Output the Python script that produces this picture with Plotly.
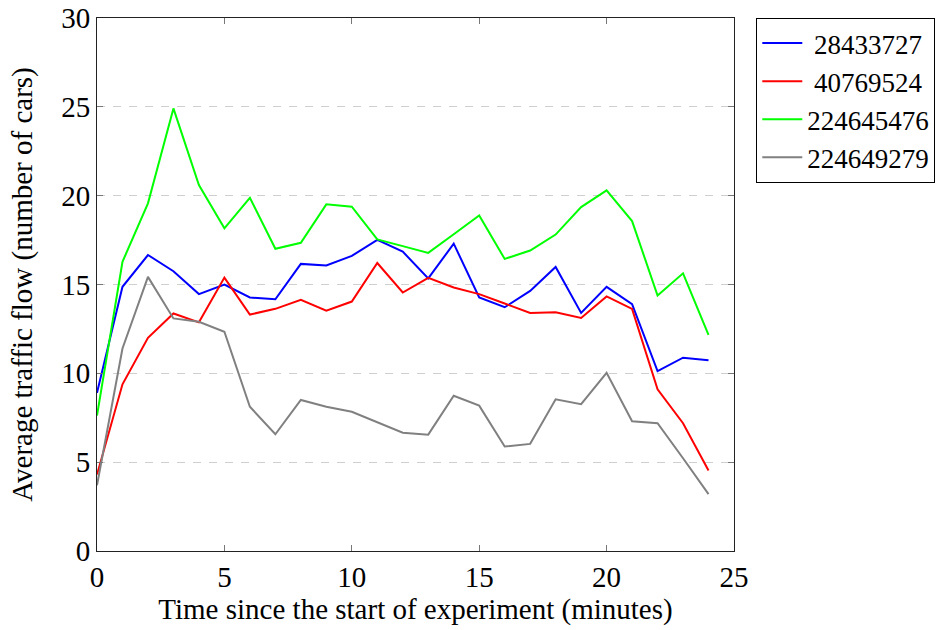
import plotly.graph_objects as go

minutes = list(range(25))
names = ["28433727", "40769524", "224645476", "224649279"]
s_28433727 = [8.9, 14.87, 16.66, 15.75, 14.46, 15.0, 14.27, 14.17, 16.16, 16.07, 16.61, 17.51, 16.85,
              15.34, 17.3, 14.27, 13.72, 14.64, 15.99, 13.4, 14.87, 13.89, 10.13, 10.88, 10.73]
s_40769524 = [4.3, 9.38, 12.0, 13.37, 12.87, 15.39, 13.31, 13.63, 14.14, 13.52, 14.04, 16.21, 14.55,
              15.37, 14.83, 14.46, 13.93, 13.4, 13.44, 13.12, 14.33, 13.63, 9.1, 7.19, 4.53]
s_224645476 = [7.62, 16.28, 19.57, 24.91, 20.6, 18.16, 19.88, 17.01, 17.35, 19.51, 19.38, 17.54, 17.16,
               16.78, 17.83, 18.89, 16.44, 16.91, 17.81, 19.36, 20.3, 18.57, 14.38, 15.63, 12.17]
s_224649279 = [3.7, 11.4, 15.43, 13.09, 12.9, 12.34, 8.12, 6.57, 8.5, 8.12, 7.84, 7.25, 6.66,
               6.55, 8.74, 8.18, 5.88, 6.03, 8.54, 8.26, 10.03, 7.3, 7.19, 5.22, 3.2]
series = [s_28433727, s_40769524, s_224645476, s_224649279]
colors = ["#0000ff", "#ff0000", "#00ff00", "#808080"]
x_ticks = [0, 5, 10, 15, 20, 25]
y_ticks = [0, 5, 10, 15, 20, 25, 30]

font_family = "Liberation Serif, Times New Roman, serif"
FS = 29

fig = go.Figure()
for name, ys, c in zip(names, series, colors):
    pad = "\u00a0" * (9 - len(name))
    fig.add_trace(go.Scatter(x=minutes, y=ys, mode="lines", name=pad + name,
                             line=dict(color=c, width=2)))

fig.update_layout(
    width=950, height=630,
    margin=dict(l=97, r=216, t=18, b=79, autoexpand=False),
    paper_bgcolor="white", plot_bgcolor="white",
    font=dict(family=font_family, size=FS, color="black"),
    legend=dict(x=1.035, y=1, xanchor="left", yanchor="top",
                bordercolor="black", borderwidth=1, bgcolor="white",
                font=dict(family=font_family, size=27),
                tracegroupgap=0, itemwidth=40),
    xaxis=dict(range=[0, 25], tickvals=x_ticks, ticktext=[str(v) for v in x_ticks],
               showgrid=False, zeroline=False, automargin=False,
               showline=True, linecolor="#222", linewidth=1, mirror="ticks",
               ticks="inside", ticklen=6, tickcolor="#777",
               title=dict(text="Time since the start of experiment (minutes)", standoff=6,
                          font=dict(size=FS))),
    yaxis=dict(range=[0, 30], tickvals=y_ticks, ticktext=[str(v) for v in y_ticks],
               showgrid=True, gridcolor="#cfcfcf", griddash="8px,8px", gridwidth=1,
               zeroline=False, automargin=False,
               showline=True, linecolor="#222", linewidth=1, mirror="ticks",
               ticks="inside", ticklen=6, tickcolor="#777",
               title=dict(text="Average traffic flow (number of cars)", standoff=20,
                          font=dict(size=FS))),
)

fig.write_html("out.html")
